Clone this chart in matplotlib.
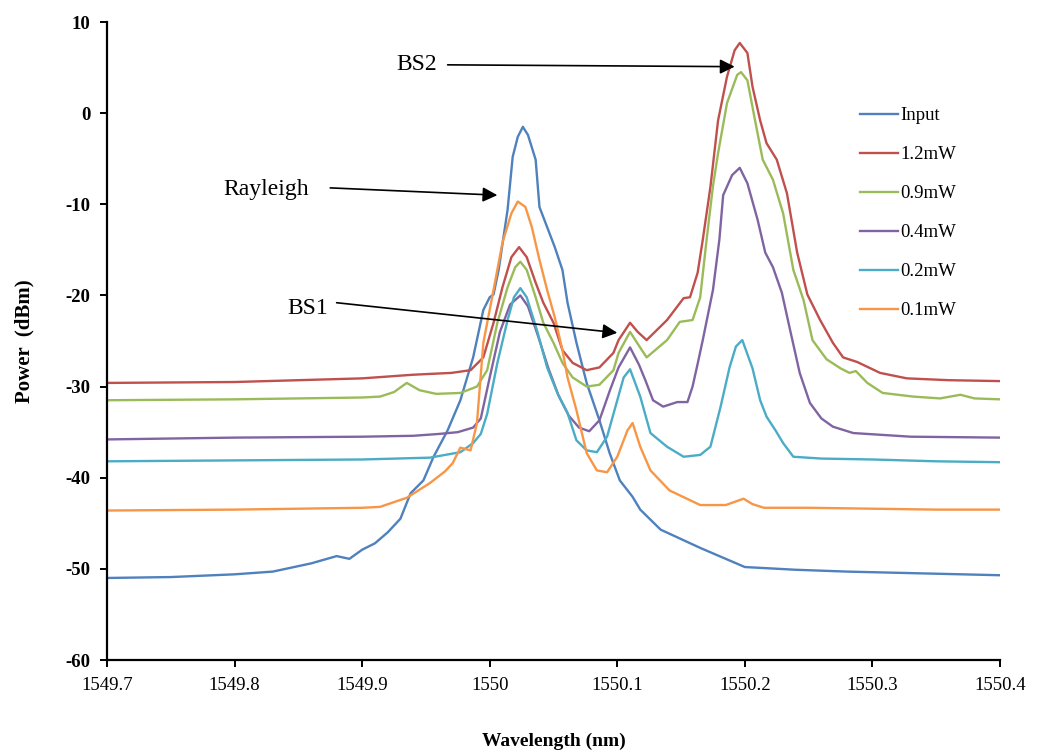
import matplotlib
matplotlib.use('Agg')
import matplotlib.pyplot as plt

plt.rcParams['font.family'] = 'serif'
plt.rcParams['font.serif'] = ['Liberation Serif', 'DejaVu Serif']
plt.rcParams['axes.unicode_minus'] = False

# wavelength (nm) / power (dBm)
input_x = [1549.70, 1549.75, 1549.80, 1549.83, 1549.86, 1549.88, 1549.89, 1549.90, 1549.91, 1549.92,
           1549.93, 1549.938, 1549.948, 1549.956, 1549.967, 1549.977, 1549.987, 1549.995, 1550.000,
           1550.003, 1550.007, 1550.014, 1550.018, 1550.022, 1550.026, 1550.030, 1550.036, 1550.039,
           1550.045, 1550.051, 1550.057, 1550.061, 1550.068, 1550.076, 1550.086, 1550.094, 1550.102,
           1550.112, 1550.118, 1550.134, 1550.165, 1550.20, 1550.24, 1550.28, 1550.34, 1550.40]
input_y = [-51.0, -50.9, -50.6, -50.3, -49.4, -48.6, -48.9, -47.9, -47.2, -46.0,
           -44.5, -41.7, -40.3, -37.7, -34.8, -31.5, -26.8, -21.6, -20.2,
           -19.9, -17.2, -10.6, -4.8, -2.6, -1.5, -2.4, -5.1, -10.3,
           -12.5, -14.7, -17.2, -20.8, -25.2, -29.6, -33.7, -37.3, -40.3,
           -42.1, -43.5, -45.7, -47.7, -49.8, -50.1, -50.3, -50.5, -50.7]

p12_x = [1549.70, 1549.80, 1549.90, 1549.94, 1549.97, 1549.985, 1549.995, 1550.003, 1550.010, 1550.017,
         1550.023, 1550.029, 1550.036, 1550.042, 1550.050, 1550.057, 1550.065, 1550.076, 1550.086,
         1550.097, 1550.101, 1550.110, 1550.116, 1550.123, 1550.139, 1550.152, 1550.157, 1550.163,
         1550.167, 1550.173, 1550.179, 1550.186, 1550.192, 1550.196, 1550.202, 1550.206, 1550.212,
         1550.217, 1550.225, 1550.233, 1550.241, 1550.249, 1550.259, 1550.269, 1550.277, 1550.288,
         1550.306, 1550.327, 1550.36, 1550.40]
p12_y = [-29.6, -29.5, -29.1, -28.7, -28.5, -28.2, -26.8, -23.0, -19.1, -15.8,
         -14.7, -15.8, -18.6, -20.8, -23.0, -26.0, -27.4, -28.2, -27.9,
         -26.3, -24.9, -23.0, -24.0, -24.9, -22.7, -20.3, -20.2, -17.5,
         -13.9, -8.1, -0.8, 4.0, 6.9, 7.7, 6.6, 2.9, -0.8,
         -3.3, -5.1, -8.8, -15.3, -19.9, -22.7, -25.2, -26.8, -27.3,
         -28.5, -29.1, -29.3, -29.4]

p09_x = [1549.70, 1549.80, 1549.90, 1549.914, 1549.925, 1549.935, 1549.945, 1549.958, 1549.977, 1549.990,
         1549.998, 1550.006, 1550.014, 1550.020, 1550.024, 1550.029, 1550.036, 1550.042, 1550.050,
         1550.057, 1550.065, 1550.076, 1550.086, 1550.097, 1550.101, 1550.110, 1550.116, 1550.123,
         1550.139, 1550.149, 1550.159, 1550.165, 1550.170, 1550.175, 1550.179, 1550.186, 1550.194,
         1550.197, 1550.202, 1550.208, 1550.214, 1550.222, 1550.230, 1550.238, 1550.246, 1550.253,
         1550.264, 1550.275, 1550.282, 1550.287, 1550.296, 1550.308, 1550.332, 1550.353, 1550.369,
         1550.38, 1550.40]
p09_y = [-31.5, -31.4, -31.2, -31.1, -30.6, -29.6, -30.4, -30.8, -30.7, -30.0,
         -28.2, -23.0, -19.1, -16.9, -16.3, -17.2, -20.2, -23.0, -25.2,
         -27.4, -29.0, -30.0, -29.8, -28.2, -26.3, -24.0, -25.3, -26.8,
         -24.9, -22.9, -22.7, -20.2, -13.9, -8.0, -4.4, 1.1, 4.2,
         4.5, 3.6, -0.8, -5.1, -7.3, -11.0, -17.2, -20.5, -24.9,
         -27.0, -28.0, -28.5, -28.3, -29.6, -30.7, -31.1, -31.3, -30.9,
         -31.3, -31.4]

p04_x = [1549.70, 1549.80, 1549.90, 1549.94, 1549.96, 1549.975, 1549.987, 1549.993, 1550.000, 1550.008,
         1550.016, 1550.024, 1550.030, 1550.038, 1550.046, 1550.054, 1550.062, 1550.070, 1550.078,
         1550.086, 1550.094, 1550.101, 1550.110, 1550.117, 1550.122, 1550.128, 1550.136, 1550.147,
         1550.155, 1550.159, 1550.163, 1550.167, 1550.175, 1550.180, 1550.183, 1550.190, 1550.196,
         1550.202, 1550.210, 1550.216, 1550.222, 1550.229, 1550.235, 1550.243, 1550.251, 1550.260,
         1550.269, 1550.285, 1550.33, 1550.40]
p04_y = [-35.8, -35.6, -35.5, -35.4, -35.2, -35.0, -34.5, -33.5, -29.0, -24.0,
         -21.0, -20.0, -21.2, -24.5, -28.0, -31.0, -33.2, -34.5, -34.9,
         -33.7, -30.5, -27.9, -25.7, -27.6, -29.3, -31.5, -32.2, -31.7,
         -31.7, -30.0, -27.5, -24.9, -19.4, -13.9, -9.0, -6.8, -6.0,
         -7.7, -11.7, -15.3, -16.9, -19.7, -23.5, -28.5, -31.8, -33.5,
         -34.4, -35.1, -35.5, -35.6]

p02_x = [1549.70, 1549.80, 1549.90, 1549.953, 1549.977, 1549.987, 1549.993, 1549.998, 1550.006, 1550.014,
         1550.019, 1550.024, 1550.029, 1550.037, 1550.045, 1550.053, 1550.061, 1550.068, 1550.076,
         1550.084, 1550.092, 1550.100, 1550.105, 1550.110, 1550.118, 1550.126, 1550.139, 1550.152,
         1550.165, 1550.173, 1550.181, 1550.188, 1550.193, 1550.198, 1550.206, 1550.212, 1550.217,
         1550.224, 1550.230, 1550.238, 1550.26, 1550.30, 1550.35, 1550.40]
p02_y = [-38.2, -38.1, -38.0, -37.8, -37.2, -36.2, -35.2, -33.0, -27.4, -22.7,
         -20.2, -19.2, -20.2, -23.8, -27.9, -30.7, -32.9, -35.9, -37.0,
         -37.2, -35.5, -31.5, -29.0, -28.1, -31.1, -35.1, -36.6, -37.7,
         -37.5, -36.6, -32.2, -27.9, -25.6, -24.9, -28.0, -31.5, -33.3,
         -34.8, -36.2, -37.7, -37.9, -38.0, -38.2, -38.3]

p01_x = [1549.70, 1549.80, 1549.90, 1549.914, 1549.935, 1549.953, 1549.965, 1549.971, 1549.977, 1549.985,
         1549.990, 1549.995, 1550.003, 1550.010, 1550.017, 1550.022, 1550.028, 1550.033, 1550.039,
         1550.045, 1550.051, 1550.057, 1550.061, 1550.068, 1550.076, 1550.084, 1550.092, 1550.100,
         1550.108, 1550.112, 1550.118, 1550.126, 1550.141, 1550.165, 1550.185, 1550.193, 1550.199,
         1550.206, 1550.215, 1550.25, 1550.30, 1550.35, 1550.40]
p01_y = [-43.6, -43.5, -43.3, -43.2, -42.2, -40.6, -39.3, -38.4, -36.7, -37.0,
         -34.0, -25.2, -19.4, -14.2, -11.0, -9.7, -10.3, -12.5, -16.1,
         -19.4, -22.4, -26.0, -29.0, -32.6, -37.3, -39.2, -39.4, -37.7,
         -34.8, -34.0, -36.6, -39.2, -41.4, -43.0, -43.0, -42.6, -42.3,
         -42.9, -43.3, -43.3, -43.4, -43.5, -43.5]

labels = ['Input', '1.2mW', '0.9mW', '0.4mW', '0.2mW', '0.1mW']
colors = ['#4F81BD', '#C0504D', '#9BBB59', '#8064A2', '#4BACC6', '#F79646']
series = [(input_x, input_y), (p12_x, p12_y), (p09_x, p09_y),
          (p04_x, p04_y), (p02_x, p02_y), (p01_x, p01_y)]

fig = plt.figure(figsize=(10.53, 7.53), dpi=100)
ax = fig.add_axes([107 / 1053, 1 - 660 / 753, 893 / 1053, 638 / 753])

for (xs, ys), lab, c in zip(series, labels, colors):
    ax.plot(xs, ys, color=c, lw=1.7, label=lab)

ax.set_xlim(1549.7, 1550.4)
ax.set_ylim(-60, 10)
ax.set_xticks([1549.7, 1549.8, 1549.9, 1550.0, 1550.1, 1550.2, 1550.3, 1550.4])
ax.set_xticklabels(['1549.7', '1549.8', '1549.9', '1550', '1550.1', '1550.2', '1550.3', '1550.4'])
ax.set_yticks(range(-60, 11, 10))
for sp in ['top', 'right']:
    ax.spines[sp].set_visible(False)
for sp in ['left', 'bottom']:
    ax.spines[sp].set_linewidth(1.6)
ax.tick_params(axis='both', direction='out', length=5, width=1.4, labelsize=13.5, pad=7)
for t in ax.get_yticklabels():
    t.set_fontweight('bold')

ax.set_xlabel('Wavelength (nm)', fontsize=14, fontweight='bold', labelpad=28)
ax.set_ylabel('Power  (dBm)', fontsize=15, fontweight='bold', labelpad=22)

arrow = dict(arrowstyle='-|>', color='black', lw=1.2, mutation_scale=22, shrinkA=0, shrinkB=0)
ax.text(1549.943, 5.3, 'BS2', fontsize=17, ha='center', va='center')
ax.annotate('', xy=(1550.192, 5.1), xytext=(1549.967, 5.3), arrowprops=arrow)
ax.text(1549.825, -8.4, 'Rayleigh', fontsize=17, ha='center', va='center')
ax.annotate('', xy=(1550.006, -9.0), xytext=(1549.875, -8.2), arrowprops=arrow)
ax.text(1549.857, -21.4, 'BS1', fontsize=17, ha='center', va='center')
ax.annotate('', xy=(1550.100, -24.1), xytext=(1549.880, -20.8), arrowprops=arrow)

ax.legend(loc='upper left', bbox_to_anchor=(860 / 1053, 1 - 107 / 753), bbox_transform=fig.transFigure,
          frameon=False, fontsize=13.5, handlelength=2.0, handletextpad=0.15, labelspacing=1.17,
          borderpad=0, borderaxespad=0)

fig.savefig('out.png', dpi=100)
